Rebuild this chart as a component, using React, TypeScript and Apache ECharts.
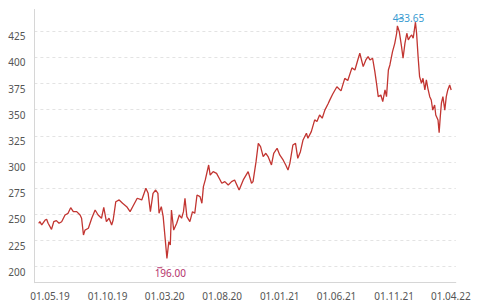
import React, { useEffect, useRef } from "react";
import * as echarts from "echarts";

const dates: string[] = [
  "2019-04-01","2019-04-04","2019-04-09","2019-04-18","2019-04-22","2019-04-26","2019-05-05","2019-05-11","2019-05-18","2019-05-25",
  "2019-06-01","2019-06-10","2019-06-18","2019-06-25","2019-07-02","2019-07-11","2019-07-20","2019-07-24","2019-07-29","2019-08-02",
  "2019-08-11","2019-08-20","2019-08-29","2019-09-06","2019-09-15","2019-09-21","2019-09-28","2019-10-05","2019-10-12","2019-10-16",
  "2019-10-23","2019-11-01","2019-11-10","2019-11-21","2019-11-30","2019-12-08","2019-12-19","2019-12-31","2020-01-11","2020-01-17",
  "2020-01-23","2020-01-30","2020-02-06","2020-02-12","2020-02-15","2020-02-21","2020-02-26","2020-03-01","2020-03-07","2020-03-12",
  "2020-03-16","2020-03-19","2020-03-25","2020-04-02","2020-04-09","2020-04-15","2020-04-20","2020-04-24","2020-04-29","2020-05-07",
  "2020-05-14","2020-05-20","2020-05-26","2020-06-03","2020-06-08","2020-06-12","2020-06-17","2020-06-26","2020-06-30","2020-07-08",
  "2020-07-17","2020-07-24","2020-07-31","2020-08-08","2020-08-17","2020-08-26","2020-09-03","2020-09-15","2020-09-26","2020-10-09",
  "2020-10-18","2020-10-22","2020-10-30","2020-11-05","2020-11-11","2020-11-18","2020-11-25","2020-12-01","2020-12-10","2020-12-16",
  "2020-12-25","2021-01-01","2021-01-10","2021-01-17","2021-01-23","2021-01-28","2021-02-05","2021-02-12","2021-02-18","2021-02-25",
  "2021-03-04","2021-03-13","2021-03-17","2021-03-26","2021-04-04","2021-04-10","2021-04-17","2021-04-24","2021-05-01","2021-05-10",
  "2021-05-14","2021-05-22","2021-06-02","2021-06-13","2021-06-23","2021-07-01","2021-07-12","2021-07-20","2021-07-28","2021-08-02",
  "2021-08-11","2021-08-18","2021-08-24","2021-08-29","2021-09-05","2021-09-11","2021-09-16","2021-09-20","2021-09-27","2021-10-02",
  "2021-10-08","2021-10-12","2021-10-17","2021-10-21","2021-10-28","2021-11-03","2021-11-08","2021-11-10","2021-11-15","2021-11-21",
  "2021-11-25","2021-11-30","2021-12-05","2021-12-09","2021-12-14","2021-12-18","2021-12-22","2021-12-28","2021-12-31","2022-01-04",
  "2022-01-08","2022-01-13","2022-01-17","2022-01-22","2022-01-26","2022-01-30","2022-02-04","2022-02-08","2022-02-12","2022-02-17",
  "2022-02-20","2022-02-26","2022-03-01","2022-03-04","2022-03-07","2022-03-11","2022-03-16","2022-03-20","2022-03-24","2022-03-29",
  "2022-04-02"
];

const values: number[] = [
  241.5,243,240,244.6,245.3,241.5,235.7,243,244,241.5,
  243,249.4,251,256.4,252.6,252.6,249.4,246.3,230.3,235,
  236.7,246.3,254.2,249.4,246.3,256.8,243,246.3,239.9,244.6,
  262.1,263.8,260.6,257.4,252.6,258,265.4,263.8,274.9,270.1,
  252.6,270.1,273.3,270.1,251,257.4,247.8,231.9,208,223.9,
  220.7,254.2,235,241.5,249.4,246.3,252.6,265.4,247.8,243,
  252.6,251,268.5,266.9,260.6,276.5,282.9,297.2,287.6,290.8,
  289.2,284.5,279.7,281.3,278.1,281.3,282.9,273.3,282.9,290.8,
  279.7,281.3,300.4,317.9,314.7,305.2,308.4,305.2,297.2,308.4,
  313.2,306.8,302,297.2,292.4,298.8,316.3,317.9,303.6,309.9,
  321.1,327.5,322.8,329.1,340.3,338.7,345,341.9,349.6,356,
  359.2,365,372,368,380,378,390,388,398,404,
  391.2,397.6,400.8,397.6,399.2,386.4,373.7,362.5,364.1,357.7,
  368.9,362.5,388,392.8,405.5,413.5,423.1,430.1,424.6,410.3,
  399.2,413.5,423.1,416.7,419.9,421.5,418.3,433.65,423.1,400.8,
  381.6,375.3,380.1,368.9,378.5,370.5,362.5,359.3,349.7,354.5,
  345,340.2,328.1,343.4,356.2,362.5,349.7,362.5,368.9,373.7,
  368.9
];

const xLabelDates: string[] = [
  "2019-05-01","2019-10-01","2020-03-01","2020-08-01",
  "2021-01-01","2021-06-01","2021-11-01","2022-04-01"
];

const maxLabel = "433.65";
const minLabel = "196.00";
const maxMarkDate = "2021-11-19";
const maxMarkValue = 437;
const minMarkDate = "2020-02-17";
const minMarkValue = 199;

const yMin = 184.7;
const yMax = 445.8;

function parseLocal(s: string): number {
  const [y, m, d] = s.split("-").map(Number);
  return new Date(y, m - 1, d).getTime();
}

function pad(n: number): string {
  return n < 10 ? "0" + n : String(n);
}

export default function App() {
  const ref = useRef<HTMLDivElement>(null);
  useEffect(() => {
    if (!ref.current) return;
    const chart = echarts.init(ref.current, undefined, { renderer: "svg" });
    const font = "'Noto Sans', sans-serif";
    const seriesData = dates.map((d, i) => [parseLocal(d), values[i]]);
    const labelVals = xLabelDates.map(parseLocal);
    chart.setOption({
      animation: false,
      grid: { left: 34.4, right: 22.2, top: 9.5, bottom: 23.3, containLabel: false },
      xAxis: {
        type: "value",
        scale: true,
        min: new Date(2019, 2, 20, 12).getTime(),
        max: new Date(2022, 3, 14, 7).getTime(),
        axisLine: { show: true, lineStyle: { color: "#d6d6d6", width: 1 } },
        axisTick: { show: false, customValues: labelVals },
        splitLine: { show: false },
        axisLabel: {
          customValues: labelVals,
          hideOverlap: false,
          color: "#555",
          fontSize: 10,
          fontFamily: font,
          margin: 8,
          formatter: (v: number) => {
            const d = new Date(v);
            return pad(d.getDate()) + "." + pad(d.getMonth() + 1) + "." + pad(d.getFullYear() % 100);
          },
        },
      },
      yAxis: {
        type: "value",
        min: yMin,
        max: yMax,
        minInterval: 25,
        maxInterval: 25,
        axisLine: { show: true, lineStyle: { color: "#d6d6d6", width: 1 } },
        axisTick: { show: false },
        splitLine: {
          show: true,
          showMinLine: false,
          showMaxLine: false,
          lineStyle: { color: "#e3e3e3", type: [3, 3], width: 1 },
        },
        axisLabel: {
          showMinLabel: false,
          showMaxLabel: false,
          color: "#555",
          fontSize: 10,
          fontFamily: font,
          margin: 9,
          verticalAlign: "top",
        },
      },
      series: [
        {
          type: "line",
          data: seriesData,
          showSymbol: false,
          symbol: "none",
          lineStyle: { color: "#c23531", width: 1.3 },
          markPoint: {
            silent: true,
            data: [
              {
                coord: [parseLocal(maxMarkDate), maxMarkValue],
                symbol: "rect",
                symbolSize: [5, 1],
                itemStyle: { color: "#3a9bd1" },
                label: {
                  show: true,
                  formatter: maxLabel,
                  position: "inside",
                  offset: [7.7, -1.2],
                  color: "#3a9bd1",
                  fontSize: 10,
                  fontFamily: font,
                },
              },
              {
                coord: [parseLocal(minMarkDate), minMarkValue],
                symbol: "rect",
                symbolSize: [5, 1],
                itemStyle: { color: "#b5326b" },
                label: {
                  show: true,
                  formatter: minLabel,
                  position: "inside",
                  offset: [10.5, 5.3],
                  color: "#b5326b",
                  fontSize: 10,
                  fontFamily: font,
                },
              },
            ],
          },
        },
      ],
    });
    return () => chart.dispose();
  }, []);
  return <div ref={ref} style={{ width: 478, height: 306, position: "absolute", left: 0, top: 0 }} />;
}
